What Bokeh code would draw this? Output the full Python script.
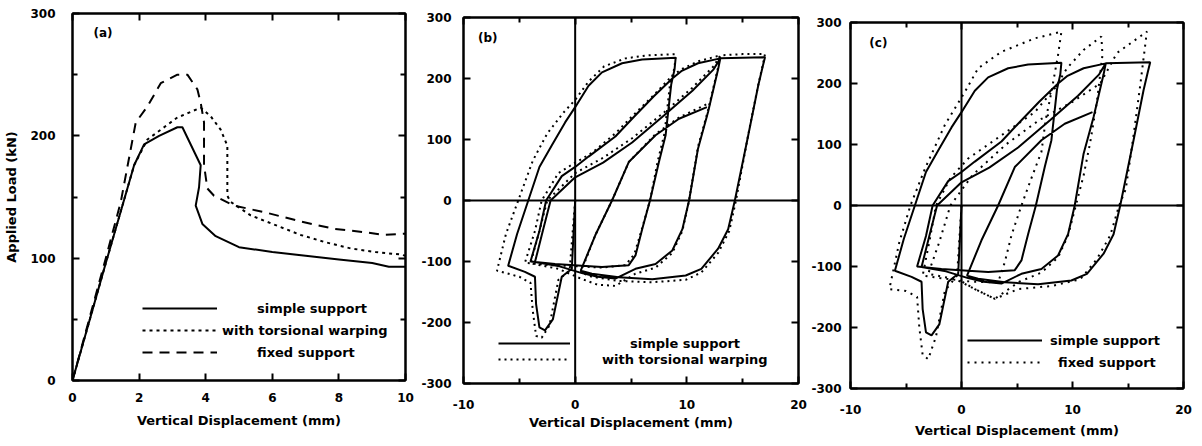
from bokeh.plotting import figure
from bokeh.models import Range1d, LinearAxis, Span, Label, Legend, LegendItem, FixedTicker
from bokeh.layouts import row
from bokeh.embed import file_html
from bokeh.resources import INLINE

FONT = "DejaVu Sans"

# ---------------- data: panel (a) monotonic load-displacement ----------------
a_simple_x = [0, 1.0, 1.85, 2.15, 2.6, 3.15, 3.3, 3.85, 3.8, 3.7, 3.9, 4.3, 5.0, 6.0, 7.0, 8.0, 9.0, 9.5, 10.0]
a_simple_y = [0, 96, 176, 193, 200, 207, 207, 176, 158, 143, 128, 118, 109, 105, 102, 99, 96, 93, 93]

a_warp_x = [0, 1.0, 1.85, 2.25, 2.7, 3.15, 3.5, 3.85, 4.15, 4.45, 4.65, 4.65, 4.75, 5.35, 6.1, 6.85, 7.6, 8.35, 9.1, 9.85, 10.0]
a_warp_y = [0, 96, 176, 197, 206, 215, 219, 223, 216, 205, 192, 151, 146, 135, 127, 119, 113, 108, 105, 103, 102]

a_fixed_x = [0, 1.0, 1.45, 1.9, 2.25, 2.65, 3.15, 3.45, 3.75, 3.85, 3.95, 3.95, 4.05, 4.25, 4.85, 5.85, 6.85, 7.85, 8.85, 9.35, 10.0]
a_fixed_y = [0, 100, 146, 211, 224, 243, 250, 250, 238, 227, 211, 176, 157, 151, 143, 137, 130, 124, 121, 119, 120]

# ---------------- data: cyclic, simple support (panels b and c) ----------------
simple_x = [0, -0.3, -1.2, -2.0, -2.7, -3.2, -3.5, -3.6, -4.5, -6.0,
            -5.2, -4.2, -3.2, -2.1, -0.9, 0, 1.2, 2.4, 4.2, 6.0, 9.0,
            8.9, 8.6, 8.1, 7.5, 6.7, 6.0, 5.4, 4.8, 2.4, 0.6, -1.8, -4.0,
            -3.2, -2.6, -1.2, 0, 1.2, 3.6, 5.1, 7.0, 8.7, 9.5, 11.0, 13.0,
            12.8, 11.9, 11.0, 10.2, 9.6, 8.7, 7.2, 5.4, 3.6, 2.0, 0.6, -1.4, -3.6,
            -2.9, -2.2, 0, 2.5, 5.1, 8.0, 10.5, 12.4, 13.0, 15.0, 17.0,
            16.8, 16.4, 15.5, 14.3, 13.7, 12.8, 11.3, 9.9, 6.9, 3.9, 1.5, 0.5,
            1.8, 3.3, 4.8, 7.2, 9.3, 11.8]
simple_y = [0, -112, -125, -195, -213, -208, -170, -125, -117, -107,
            -55, 0, 55, 90, 128, 153, 188, 210, 225, 231, 234,
            215, 190, 107, 63, 0, -47, -90, -106, -109, -107, -104, -100,
            -50, 0, 40, 55, 72, 105, 134, 170, 200, 212, 225, 233,
            215, 145, 85, 0, -47, -82, -104, -112, -128, -125, -119, -108, -101,
            -50, 0, 38, 62, 95, 140, 180, 215, 233, 234, 235,
            220, 189, 107, 0, -47, -79, -112, -123, -129, -126, -120, -115,
            -57, 0, 63, 107, 134, 153]

# ---------------- data: cyclic, with torsional warping (panel b) ----------------
warp_x = [0, -0.5, -1.5, -2.3, -3.0, -3.5, -3.8, -4.0, -5.0, -7.0,
          -6.2, -5.0, -3.8, -2.5, -1.0, 0, 1.2, 2.6, 4.5, 6.5, 9.0,
          8.9, 8.5, 8.0, 7.4, 6.7, 6.0, 5.3, 4.5, 2.4, 0.4, -2.0, -4.5,
          -3.6, -3.0, -1.5, 0, 1.5, 3.6, 5.1, 7.0, 8.6, 9.5, 11.0, 13.0,
          12.8, 11.9, 11.0, 10.2, 9.6, 8.7, 7.2, 5.4, 3.6, 2.0, 0.5, -1.5, -4.0,
          -3.2, -2.5, 0, 2.5, 5.1, 8.0, 10.5, 12.4, 13.0, 15.0, 17.0,
          16.8, 16.4, 15.5, 14.4, 13.8, 12.8, 11.3, 9.9, 6.9, 3.9, 1.5, 0.5,
          1.8, 3.3, 4.8, 7.2, 9.3, 11.8]
warp_y = [0, -115, -130, -205, -225, -222, -180, -135, -125, -115,
          -55, 5, 65, 110, 145, 165, 195, 220, 233, 238, 240,
          218, 192, 110, 65, 0, -45, -88, -106, -110, -108, -106, -102,
          -50, 0, 45, 62, 78, 110, 138, 172, 203, 215, 228, 238,
          218, 148, 88, 0, -50, -86, -110, -120, -140, -138, -128, -112, -103,
          -50, 0, 45, 70, 102, 145, 185, 220, 238, 240, 240,
          222, 190, 108, 0, -50, -86, -118, -130, -134, -132, -125, -118,
          -57, 0, 63, 109, 136, 158]

# ---------------- data: cyclic, fixed support (panel c) ----------------
fixed_x = [0, -0.4, -1.5, -2.3, -3.0, -3.5, -3.8, -4.0, -5.0, -6.5,
           -5.6, -4.6, -3.3, -1.5, 0.3, 1.5, 3.6, 6.6, 9.0,
           8.7, 8.1, 7.6, 7.2, 6.2, 5.4, 4.5, 3.9, 3.3, 1.0, -1.5, -3.5,
           -2.8, -2.3, -1.0, 0.6, 3.6, 6.6, 8.4, 9.5, 11.0, 12.6,
           12.7, 12.2, 11.6, 11.0, 10.3, 9.6, 8.7, 7.2, 5.2, 3.0, 1.2, -0.5, -3.0,
           -2.0, -1.0, 1.0, 4.0, 7.0, 10.0, 12.5, 14.0, 16.7,
           16.1, 15.5, 14.8, 14.2, 13.4, 12.2, 10.7, 8.1, 5.1, 3.0, 1.2, -0.3]
fixed_y = [0, -115, -140, -215, -252, -245, -200, -150, -140, -137,
           -60, 0, 60, 132, 186, 225, 252, 274, 285,
           247, 186, 142, 88, 40, 0, -49, -93, -126, -125, -120, -115,
           -50, 0, 45, 77, 115, 153, 192, 225, 255, 277,
           247, 170, 104, 49, 0, -49, -85, -110, -125, -153, -137, -121, -112,
           -60, 0, 50, 100, 140, 170, 200, 250, 285,
           197, 115, 27, 0, -49, -88, -121, -132, -137, -153, -137, -121]

# ---------------- ticks / labels ----------------
a_xticks = [0, 2, 4, 6, 8, 10]
a_yticks = [0, 100, 200, 300]
a_yminor = [50, 150, 250]
bc_xticks = [-10, 0, 10, 20]
bc_xminor = [-5, 5, 15]
bc_yticks = [-300, -200, -100, 0, 100, 200, 300]
x_title = "Vertical Displacement (mm)"
y_title = "Applied Load (kN)"


def make_fig(width, left, right, top, bottom, xr, yr):
    p = figure(width=width, height=446, output_backend="svg", toolbar_location=None,
               title=None, frame_align=False,
               x_range=Range1d(*xr), y_range=Range1d(*yr),
               min_border_left=left, min_border_right=right,
               min_border_top=top, min_border_bottom=bottom,
               x_axis_type=None, y_axis_type=None)
    p.background_fill_color = "white"
    p.border_fill_color = "white"
    p.xgrid.visible = False
    p.ygrid.visible = False
    p.outline_line_color = "black"
    p.outline_line_width = 2
    return p


def hyphen_labels(ticks):
    return {t: str(t) for t in ticks}


def add_axes(p, xticks, xminor, yticks, yminor, xlabel, ylabel=None,
             xstand=12, xlstand=6, ystand=16):
    bx = LinearAxis(ticker=FixedTicker(ticks=xticks, minor_ticks=xminor))
    ly = LinearAxis(ticker=FixedTicker(ticks=yticks, minor_ticks=yminor))
    tx = LinearAxis(ticker=FixedTicker(ticks=xticks, minor_ticks=xminor))
    ry = LinearAxis(ticker=FixedTicker(ticks=yticks, minor_ticks=yminor))
    for ax in (bx, ly, tx, ry):
        ax.axis_line_color = "black"
        ax.axis_line_width = 2
        ax.major_tick_in = 7
        ax.major_tick_out = 0
        ax.minor_tick_in = 5
        ax.minor_tick_out = 0
        ax.major_tick_line_width = 2
        ax.minor_tick_line_width = 2
        ax.major_label_text_font = FONT
        ax.major_label_text_font_style = "bold"
        ax.major_label_text_font_size = "12px"
        ax.major_label_text_color = "black"
        ax.axis_label_text_font = FONT
        ax.axis_label_text_font_style = "bold"
        ax.axis_label_text_font_size = "13px"
        ax.axis_label_text_color = "black"
    tx.major_label_overrides = {t: "" for t in xticks}
    ry.major_label_overrides = {t: "" for t in yticks}
    tx.major_label_standoff = -16
    ry.major_label_standoff = -16
    bx.major_label_overrides = hyphen_labels(xticks)
    ly.major_label_overrides = hyphen_labels(yticks)
    bx.axis_label = xlabel
    bx.major_label_standoff = xstand
    bx.axis_label_standoff = xlstand
    ly.major_label_standoff = ystand
    if ylabel:
        ly.axis_label = ylabel
        ly.axis_label_standoff = 8
    p.add_layout(bx, "below")
    p.add_layout(ly, "left")
    p.add_layout(tx, "above")
    p.add_layout(ry, "right")


def add_legend(p, renderer, label, loc, gw, standoff):
    lg = Legend(items=[LegendItem(label=label, renderers=[renderer])], location=loc,
                glyph_width=gw, glyph_height=20, label_height=20, label_standoff=standoff,
                padding=0, margin=0, spacing=0,
                background_fill_alpha=0, border_line_alpha=0,
                label_text_font=FONT, label_text_font_style="bold",
                label_text_font_size="13px", label_text_color="black")
    p.add_layout(lg)


def tag(p, text, x, y):
    p.add_layout(Label(x=x, y=y, text=text, text_font=FONT, text_font_style="bold",
                       text_font_size="12px", text_baseline="middle", text_color="black"))


# ---------------- panel (a) ----------------
pa = make_fig(415, 72, 10, 13, 66, (0, 10), (0, 300))
add_axes(pa, a_xticks, [], a_yticks, a_yminor, x_title, y_title, xstand=12, xlstand=8, ystand=17)
ra1 = pa.line(a_simple_x, a_simple_y, line_color="black", line_width=2)
ra2 = pa.line(a_warp_x, a_warp_y, line_color="black", line_width=2, line_dash="3 4")
ra3 = pa.line(a_fixed_x, a_fixed_y, line_color="black", line_width=2, line_dash="10 7")
add_legend(pa, ra1, "simple support", (70, 62), 75, 40)
add_legend(pa, ra2, "with torsional warping", (70, 40), 75, 5)
add_legend(pa, ra3, "fixed support", (70, 18), 75, 40)
tag(pa, "(a)", 0.63, 284)

# ---------------- panel (b) ----------------
pb = make_fig(393, 48, 10, 17, 63, (-10, 20), (-300, 300))
add_axes(pb, bc_xticks, bc_xminor, bc_yticks, [], x_title, None, xstand=16, xlstand=3, ystand=12)
pb.add_layout(Span(location=0, dimension="width", line_color="black", line_width=2))
pb.add_layout(Span(location=0, dimension="height", line_color="black", line_width=2))
rb1 = pb.line(simple_x, simple_y, line_color="black", line_width=2)
rb2 = pb.line(warp_x, warp_y, line_color="black", line_width=2, line_dash="2 4")
add_legend(pb, rb1, "simple support", (35, 30), 72, 60)
add_legend(pb, rb2, "with torsional warping", (35, 14), 72, 32)
tag(pb, "(b)", -8.7, 267)

# ---------------- panel (c) ----------------
pc = make_fig(394, 42, 19, 22, 58, (-10, 20), (-300, 300))
add_axes(pc, bc_xticks, bc_xminor, bc_yticks, [], x_title, None, xstand=16, xlstand=6, ystand=9)
pc.add_layout(Span(location=0, dimension="width", line_color="black", line_width=2))
pc.add_layout(Span(location=0, dimension="height", line_color="black", line_width=2))
rc1 = pc.line(simple_x, simple_y, line_color="black", line_width=2)
rc2 = pc.line(fixed_x, fixed_y, line_color="black", line_width=2, line_dash="2 5")
add_legend(pc, rc1, "simple support", (117, 38), 75, 8)
add_legend(pc, rc2, "fixed support", (117, 16), 75, 16)
tag(pc, "(c)", -8.3, 267)

layout = row(pa, pb, pc, spacing=0)
open("out.html", "w").write(file_html(layout, INLINE))
